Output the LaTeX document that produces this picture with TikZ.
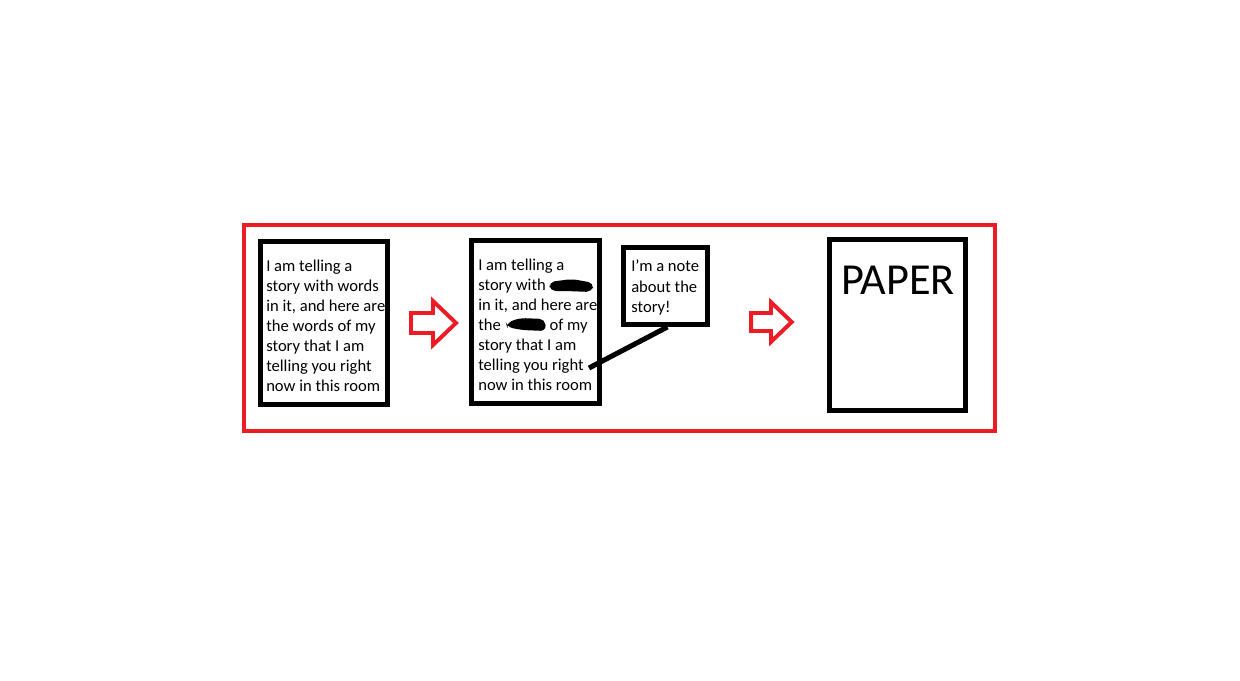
\documentclass[tikz,border=0pt]{standalone}
\usepackage{fontspec}
\setmainfont{Carlito}
\definecolor{paintred}{HTML}{ED1C24}

\begin{document}
\begin{tikzpicture}[x=0.025cm,y=-0.025cm,
    page/.style ={draw, line width=3.4pt, inner sep=0pt},
    words/.style ={anchor=north west, inner sep=0pt, align=left,
        font=\fontsize{11.8}{14.23}\selectfont},
    blot/.style ={fill=black, rounded corners=4pt},
    hollow arrow/.pic ={\draw[paintred, line width=2.8pt, line join=miter]
        (-22,-10) -- (0,-10) -- (0,-22) -- (23,0) -- (0,22) -- (0,10) -- (-22,10) -- cycle;}]
   \useasboundingbox (0,0) rectangle (1240,680);

   \draw[paintred, line width=2.8pt] (244,225) rectangle (995,431);

   \node[page, minimum width=3.175cm, minimum height=4.075cm] (story) at (324,323) {};
   \node[page, minimum width=3.2cm, minimum height=4.075cm] (redacted) at (535.5,322) {};
   \node[page, minimum width=2.1cm, minimum height=1.925cm] (note) at (665.5,286) {};
   \node[page, minimum width=3.4cm, minimum height=4.275cm] (paper) at (897.5,325) {};

   \node[words] (storytext) at (266,260) {I am telling a\\story with words\\in it, and here are\\the words of my\\story that I am\\telling you right\\now in this room};
   \node[words] (redactedtext) at (478,259) {I am telling a\\story with \phantom{words}\\in it, and here are\\the \phantom{words} of my\\story that I am\\telling you right\\now in this room};
   \node[words] (notetext) at (631,260) {I'm a note\\about the\\story!};
   \node[anchor=north, inner sep=0pt, font=\fontsize{31.5}{32}\selectfont] (papertext) at (898,266) {PAPER};

   % blacked out words
   \fill[blot] (549,282) -- (572,279) -- (594,283) -- (592,292) -- (566,291) -- (550,291) -- cycle;
   \fill[blot] (506,323) -- (520,318) -- (545,319) -- (546,331) -- (522,330) -- (507,327) -- cycle;

   \coordinate (mark) at (589,368);
   \draw[line width=3.6pt] (note.south) ++(2,0) -- (mark);

   \pic at (433,323) {hollow arrow};
   \pic[scale=0.9] at (771,322) {hollow arrow};
 \end{tikzpicture}
\end{document}
